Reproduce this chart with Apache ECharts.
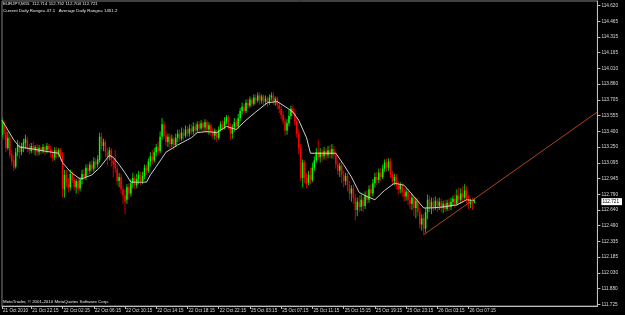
<!DOCTYPE html>
<html><head><meta charset="utf-8">
<script src="https://cdn.jsdelivr.net/npm/echarts@6/dist/echarts.min.js"></script>
<style>html,body{margin:0;padding:0;background:#000;overflow:hidden}#c{width:625px;height:315px;}</style>
</head><body><div id="c"></div>
<script>
const headerLine1 = 'EURJPY,M15  112.714 112.752 112.704 112.721';
const headerLine2 = 'Current Daily Range= 47.1   Average Daily Range= 1451.2';
const footerText = 'MetaTrader, \u00a9 2001-2010 MetaQuotes Software Corp.';

const totalSlots = 306;
const xTickLabels = [[0,'21 Oct 2010'],[15,'21 Oct 22:15'],[31,'22 Oct 02:15'],[47,'22 Oct 06:15'],[63,'22 Oct 10:15'],[79,'22 Oct 14:15'],[95,'22 Oct 18:15'],[111,'22 Oct 22:15'],[127,'25 Oct 03:15'],[143,'25 Oct 07:15'],[159,'25 Oct 11:15'],[175,'25 Oct 15:15'],[191,'25 Oct 19:15'],[207,'25 Oct 23:15'],[223,'26 Oct 03:15'],[239,'26 Oct 07:15']];
const yTickLabels = ['114.620','114.465','114.315','114.165','114.010','113.860','113.705','113.555','113.400','113.250','113.095','112.945','112.790','112.640','112.490','112.335','112.185','112.030','111.880','111.725'];

const opens = [
113.37,113.49,113.39,113.24,113.34,113.18,113.12,113.06,113.20,113.27,
113.20,113.25,113.29,113.32,113.24,113.21,113.26,113.22,113.25,113.20,
113.24,113.21,113.25,113.22,113.26,113.23,113.19,113.15,113.22,113.18,
113.22,113.16,112.84,112.98,112.90,112.86,112.99,112.93,112.86,112.92,
112.85,112.93,112.99,112.96,113.05,113.02,113.08,113.04,113.11,113.08,
113.12,113.35,113.26,113.30,113.20,113.15,113.22,113.12,113.14,113.04,
112.92,112.96,112.84,112.78,112.74,112.86,112.80,112.90,112.95,112.88,
112.94,112.98,112.92,112.97,113.05,113.02,113.11,113.16,113.12,113.20,
113.25,113.21,113.35,113.47,113.36,113.30,113.35,113.28,113.33,113.27,
113.34,113.38,113.33,113.39,113.36,113.42,113.38,113.43,113.40,113.45,
113.41,113.47,113.43,113.48,113.44,113.49,113.42,113.46,113.40,113.36,
113.40,113.34,113.42,113.47,113.44,113.50,113.54,113.45,113.38,113.44,
113.49,113.45,113.53,113.60,113.64,113.60,113.68,113.65,113.71,113.67,
113.73,113.70,113.75,113.70,113.74,113.69,113.72,113.68,113.73,113.75,
113.69,113.72,113.66,113.62,113.56,113.50,113.41,113.48,113.55,113.62,
113.58,113.50,113.38,113.24,112.95,113.10,112.95,112.90,112.98,112.93,
113.05,113.12,113.20,113.15,113.20,113.16,113.21,113.17,113.22,113.18,
113.23,113.17,113.08,113.02,113.07,112.98,112.92,112.97,112.88,112.80,
112.85,112.76,112.64,112.72,112.67,112.74,112.68,112.78,112.74,112.84,
112.80,112.90,112.96,112.93,113.00,112.96,113.04,113.10,113.05,113.11,
112.98,112.92,112.96,112.88,112.84,112.88,112.81,112.77,112.82,112.74,
112.70,112.76,112.66,112.73,112.62,112.50,112.56,112.46,112.62,112.74,
112.66,112.72,112.67,112.73,112.68,112.72,112.66,112.70,112.65,112.71,
112.67,112.72,112.75,112.70,112.78,112.74,112.80,112.76,112.83,112.75,
112.70,112.73,112.714];
const closes = [
113.49,113.38,113.24,113.34,113.17,113.11,113.05,113.20,113.27,113.20,
113.26,113.30,113.33,113.24,113.21,113.26,113.22,113.25,113.20,113.24,
113.21,113.25,113.22,113.26,113.23,113.19,113.14,113.22,113.18,113.22,
113.16,112.85,112.98,112.90,112.85,112.99,112.93,112.86,112.92,112.84,
112.93,112.99,112.96,113.05,113.02,113.08,113.04,113.11,113.08,113.13,
113.35,113.26,113.30,113.20,113.15,113.22,113.13,113.08,113.04,112.92,
112.96,112.84,112.78,112.72,112.86,112.80,112.90,112.95,112.88,112.94,
112.98,112.92,112.97,113.05,113.02,113.11,113.16,113.12,113.20,113.25,
113.21,113.35,113.47,113.36,113.30,113.35,113.28,113.33,113.27,113.34,
113.38,113.33,113.39,113.36,113.42,113.38,113.43,113.40,113.45,113.41,
113.47,113.43,113.48,113.44,113.49,113.42,113.46,113.40,113.36,113.41,
113.34,113.42,113.47,113.44,113.50,113.54,113.45,113.38,113.44,113.49,
113.45,113.53,113.60,113.64,113.60,113.68,113.65,113.71,113.67,113.73,
113.70,113.75,113.70,113.74,113.69,113.72,113.68,113.73,113.75,113.69,
113.72,113.66,113.62,113.56,113.50,113.41,113.48,113.55,113.62,113.58,
113.50,113.38,113.24,112.95,113.10,112.95,112.90,112.98,112.93,113.05,
113.12,113.20,113.15,113.20,113.16,113.21,113.17,113.22,113.18,113.23,
113.17,113.08,113.02,113.07,112.98,112.92,112.97,112.88,112.80,112.85,
112.76,112.64,112.72,112.67,112.74,112.68,112.78,112.74,112.84,112.80,
112.90,112.96,112.93,113.00,112.96,113.04,113.10,113.05,113.11,112.98,
112.92,112.96,112.88,112.84,112.88,112.81,112.77,112.82,112.74,112.70,
112.76,112.66,112.73,112.62,112.50,112.56,112.46,112.62,112.74,112.66,
112.72,112.67,112.73,112.68,112.72,112.66,112.70,112.65,112.71,112.67,
112.72,112.75,112.70,112.78,112.74,112.80,112.76,112.83,112.75,112.70,
112.73,112.71,112.721];
const lows = [
113.34,113.32,113.20,113.22,113.14,113.07,113.02,113.04,113.16,113.14,
113.17,113.20,113.23,113.20,113.18,113.19,113.19,113.17,113.16,113.17,
113.18,113.19,113.17,113.19,113.20,113.15,113.11,113.12,113.14,113.15,
113.12,112.76,112.76,112.86,112.81,112.83,112.90,112.83,112.80,112.80,
112.82,112.89,112.93,112.93,112.98,112.99,113.01,113.01,113.04,113.05,
113.10,113.22,113.21,113.15,113.07,113.12,113.06,112.96,113.00,112.88,
112.86,112.80,112.70,112.60,112.70,112.74,112.77,112.85,112.84,112.85,
112.89,112.88,112.89,112.94,112.98,113.00,113.06,113.08,113.10,113.16,
113.17,113.19,113.32,113.33,113.26,113.25,113.23,113.25,113.22,113.25,
113.30,113.30,113.31,113.32,113.34,113.35,113.35,113.37,113.37,113.38,
113.39,113.40,113.41,113.39,113.40,113.38,113.37,113.36,113.33,113.32,
113.30,113.32,113.40,113.41,113.42,113.47,113.42,113.32,113.33,113.40,
113.42,113.43,113.50,113.57,113.56,113.58,113.62,113.63,113.64,113.65,
113.66,113.68,113.66,113.67,113.65,113.66,113.64,113.66,113.70,113.66,
113.65,113.62,113.58,113.52,113.47,113.36,113.37,113.45,113.52,113.55,
113.46,113.34,113.18,112.92,112.86,112.90,112.85,112.88,112.89,112.91,
113.02,113.10,113.12,113.10,113.11,113.13,113.12,113.14,113.14,113.14,
113.13,113.04,112.98,112.96,112.90,112.86,112.88,112.82,112.74,112.72,
112.70,112.54,112.58,112.62,112.63,112.62,112.65,112.70,112.71,112.76,
112.77,112.86,112.88,112.90,112.92,112.94,113.01,113.01,113.02,112.95,
112.88,112.88,112.84,112.79,112.80,112.77,112.72,112.73,112.69,112.65,
112.64,112.58,112.56,112.58,112.46,112.44,112.40,112.42,112.55,112.62,
112.60,112.63,112.64,112.62,112.64,112.62,112.61,112.62,112.63,112.63,
112.64,112.68,112.66,112.68,112.70,112.70,112.71,112.74,112.71,112.65,
112.66,112.64,112.704];
const highs = [
113.53,113.51,113.44,113.40,113.37,113.22,113.17,113.24,113.32,113.30,
113.29,113.33,113.37,113.35,113.28,113.29,113.30,113.27,113.28,113.27,
113.26,113.28,113.27,113.29,113.28,113.26,113.22,113.25,113.25,113.24,
113.24,113.20,113.03,113.03,112.95,113.03,113.02,112.96,112.94,112.95,
112.96,113.03,113.04,113.08,113.09,113.11,113.12,113.15,113.14,113.17,
113.39,113.39,113.33,113.32,113.24,113.25,113.24,113.16,113.22,113.08,
113.00,112.99,112.88,112.84,112.89,112.90,112.94,113.00,112.98,112.99,
113.02,113.01,113.01,113.08,113.08,113.14,113.20,113.22,113.24,113.28,
113.30,113.40,113.53,113.50,113.40,113.38,113.38,113.37,113.35,113.38,
113.42,113.42,113.44,113.43,113.46,113.45,113.47,113.47,113.49,113.48,
113.50,113.50,113.51,113.50,113.52,113.51,113.49,113.48,113.44,113.43,
113.42,113.45,113.50,113.51,113.54,113.56,113.56,113.48,113.47,113.53,
113.52,113.57,113.63,113.68,113.67,113.71,113.72,113.74,113.73,113.76,
113.76,113.78,113.78,113.76,113.76,113.75,113.74,113.76,113.78,113.78,
113.74,113.74,113.69,113.65,113.60,113.53,113.52,113.61,113.65,113.66,
113.62,113.53,113.42,113.28,113.13,113.12,113.00,113.02,113.05,113.10,
113.16,113.24,113.32,113.24,113.23,113.25,113.24,113.26,113.27,113.28,
113.26,113.21,113.12,113.10,113.10,113.02,113.00,113.00,112.92,112.88,
112.89,112.80,112.76,112.78,112.79,112.77,112.82,112.83,112.88,112.89,
112.94,113.00,113.01,113.04,113.05,113.08,113.13,113.14,113.14,113.14,
113.02,112.99,112.99,112.92,112.91,112.90,112.85,112.85,112.84,112.79,
112.80,112.78,112.76,112.76,112.66,112.60,112.60,112.66,112.79,112.78,
112.76,112.76,112.77,112.75,112.76,112.75,112.73,112.74,112.74,112.75,
112.76,112.78,112.80,112.84,112.86,112.85,112.87,112.89,112.87,112.79,
112.75,112.76,112.752];

const maIdx = [0,6,9,16,22,29,31,35,40,42,46,50,55,57,60,63,66,74,76,79,84,90,97,100,105,110,115,120,125,130,136,141,146,149,152,156,158,167,171,175,179,183,187,191,196,201,206,211,216,220,226,233,238,242];
const maVal = [113.51,113.32,113.25,113.23,113.21,113.19,113.10,113.01,112.94,112.95,112.98,113.05,113.17,113.15,113.08,113.00,112.91,112.91,112.98,113.06,113.20,113.27,113.34,113.39,113.40,113.39,113.45,113.42,113.51,113.59,113.68,113.69,113.63,113.59,113.51,113.34,113.19,113.19,113.19,113.08,112.96,112.81,112.77,112.74,112.83,112.90,112.88,112.77,112.66,112.66,112.67,112.69,112.74,112.73];

const trendIdx = [216, 305];
const trendVal = [112.40, 113.59];

const yMin = 111.710, yMax = 114.665;

const categories = [];
for (let i = 0; i < totalSlots; i++) categories.push(String(i));
const candleData = opens.map((o, i) => [i, o, closes[i], lows[i], highs[i]]);
const maData = maIdx.map((x, i) => [x, maVal[i]]);
const trendData = trendIdx.map((x, i) => [x, trendVal[i]]);
const xLabelMap = {};
xTickLabels.forEach(([i, t]) => { xLabelMap[i] = t; });
const yTickVals = yTickLabels.map(Number);
const lastClose = closes[closes.length - 1];

const FONT = 'Liberation Sans';
const BULL = '#00ff00', BEAR = '#ff0000';

function renderCandle(params, api) {
  const idx = api.value(0);
  const o = api.value(1), c = api.value(2), l = api.value(3), h = api.value(4);
  const pO = api.coord([idx, o]);
  const pC = api.coord([idx, c]);
  const pL = api.coord([idx, l]);
  const pH = api.coord([idx, h]);
  const col = c >= o ? BULL : BEAR;
  const cx = pO[0];
  const top = Math.min(pO[1], pC[1]);
  const bh = Math.max(1, Math.abs(pO[1] - pC[1]));
  return {
    type: 'group',
    children: [
      {type: 'line', shape: {x1: cx, y1: pH[1], x2: cx, y2: pL[1]}, style: {stroke: col, lineWidth: 0.8}},
      {type: 'rect', shape: {x: cx - 0.75, y: top, width: 1.5, height: bh}, style: {fill: col}}
    ]
  };
}

const chart = echarts.init(document.getElementById('c'), null, {renderer: 'canvas'});
chart.setOption({
  animation: false,
  backgroundColor: '#000',
  grid: {left: 1, right: 19, top: 1, bottom: 9, show: true, borderColor: '#808080', borderWidth: 1, backgroundColor: 'transparent'},
  xAxis: {
    type: 'category', data: categories, boundaryGap: false,
    axisLine: {show: true, lineStyle: {color: '#c0c0c0', width: 1}},
    axisTick: {show: true, length: 3, interval: (i) => xLabelMap[i] !== undefined, lineStyle: {color: '#c0c0c0'}},
    axisLabel: {show: true, interval: (i) => xLabelMap[i] !== undefined, formatter: (v, i) => xLabelMap[i] || '', color: '#dcdcdc', fontSize: 4.6, fontFamily: FONT, align: 'left', margin: 2, padding: [0, 0, 0, 1]},
    splitLine: {show: false}
  },
  yAxis: {
    type: 'value', position: 'right', min: yMin, max: yMax, scale: true,
    axisLine: {show: true, lineStyle: {color: '#c0c0c0', width: 1}},
    axisTick: {show: true, length: 3, customValues: yTickVals, lineStyle: {color: '#c0c0c0'}},
    axisLabel: {
      show: true, customValues: yTickVals.concat([lastClose]), margin: 4,
      color: '#dcdcdc', fontSize: 4.7, fontFamily: FONT,
      formatter: (v) => Math.abs(v - lastClose) < 1e-6 ? '{box|' + v.toFixed(3) + '}' : v.toFixed(3),
      rich: {box: {backgroundColor: '#ffffff', color: '#000000', fontSize: 4.7, fontFamily: FONT, padding: [1, 3, 1, 1]}}
    },
    splitLine: {show: false}
  },
  series: [
    {
      type: 'custom', data: candleData, renderItem: renderCandle, clip: true,
      encode: {x: 0, y: [1, 2, 3, 4]}, z: 2
    },
    {
      type: 'line', data: maData, showSymbol: false, symbol: 'none',
      lineStyle: {color: '#cfcfcf', width: 1}, z: 3
    },
    {
      type: 'line', data: trendData, showSymbol: false, symbol: 'none',
      lineStyle: {color: '#b0441c', width: 1}, z: 4
    }
  ],
  graphic: [
    {type: 'text', left: 3, top: 2, style: {text: headerLine1, fill: '#e8e8e8', fontSize: 4.4, fontFamily: FONT}},
    {type: 'text', left: 3, top: 9, style: {text: headerLine2, fill: '#e8e8e8', fontSize: 4.4, fontFamily: FONT}},
    {type: 'text', left: 3, top: 300, style: {text: footerText, fill: '#e8e8e8', fontSize: 4.4, fontFamily: FONT}}
  ]
});
</script></body></html>
